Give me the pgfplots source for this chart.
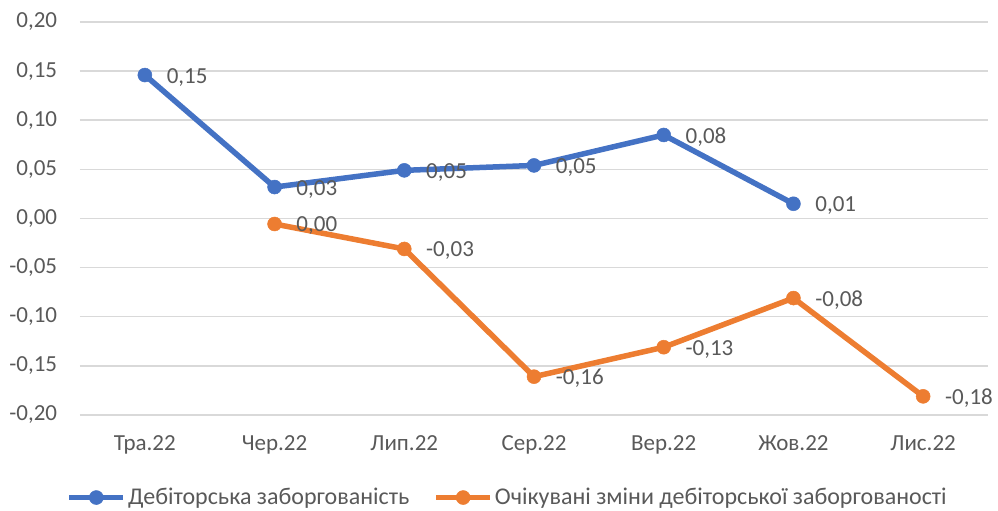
\documentclass[border=0pt]{standalone}
\usepackage{pgfplots}
\pgfplotsset{compat=1.18}
\usepackage{pgfplotstable}
\usepackage{fontspec}
\setmainfont{Carlito}
\definecolor{cblue}{HTML}{4472C4}
\definecolor{corange}{HTML}{ED7D31}
\definecolor{ctext}{HTML}{595959}
\definecolor{cgrid}{HTML}{D9D9D9}
\pgfplotstableread{
x y lab
0 0.146 {0,15}
1 0.032 {0,03}
2 0.049 {0,05}
3 0.054 {0,05}
4 0.085 {0,08}
5 0.015 {0,01}
}\blue
\pgfplotstableread{
x y lab
1 -0.0056 {0,00}
2 -0.031 {-0,03}
3 -0.161 {-0,16}
4 -0.131 {-0,13}
5 -0.081 {-0,08}
6 -0.181 {-0,18}
}\orange
\begin{document}
\fontsize{23}{27}\selectfont
\begin{tikzpicture}
\useasboundingbox (-80pt,-96pt) rectangle (918pt,415pt);
\begin{axis}[
  at={(0pt,0pt)}, anchor=south west,
  scale only axis, width=908pt, height=393pt,
  xmin=-0.5, xmax=6.5, ymin=-0.2, ymax=0.2,
  xtick={0,1,2,3,4,5,6},
  xticklabels={Тра.22,Чер.22,Лип.22,Сер.22,Вер.22,Жов.22,Лис.22},
  ytick={-0.2,-0.15,-0.1,-0.05,0,0.05,0.1,0.15,0.2},
  yticklabel style={xshift=-15pt, /pgf/number format/.cd, fixed, fixed zerofill, precision=2, use comma, assume math mode=true},
  xticklabel style={yshift=-13pt},
  ticklabel style={font=\fontsize{23}{27}\selectfont, text=ctext},
  major tick length=0pt,
  axis line style={draw=none},
  ymajorgrids, grid style={cgrid, line width=1.5pt},
  clip=false,
  legend columns=2,
  legend style={at={(0.471,-0.21)}, anchor=center, draw=none, fill=none,
    font=\fontsize{24}{28}\selectfont, text=ctext,
    /tikz/every even column/.append style={column sep=22pt},
    inner sep=0pt, row sep=0pt},
  legend image code/.code={\draw[mark repeat=2,mark phase=2,#1] plot coordinates {(0pt,0pt) (27pt,0pt) (54pt,0pt)};},
  nodes near coords,
  point meta=explicit symbolic,
  every node near coord/.append style={anchor=west, xshift=14pt, yshift=-2pt, font=\fontsize{23}{27}\selectfont, text=ctext},
]
\addplot[cblue, line width=5.5pt, mark=*, mark size=7pt, mark options={solid, line width=0.5pt}] table[x=x, y=y, meta=lab] {\blue};
\addlegendentry{Дебіторська заборгованість}
\addplot[corange, line width=5.5pt, mark=*, mark size=7pt, mark options={solid, line width=0.5pt}] table[x=x, y=y, meta=lab] {\orange};
\addlegendentry{Очікувані зміни дебіторської заборгованості}
\end{axis}
\end{tikzpicture}
\end{document}
